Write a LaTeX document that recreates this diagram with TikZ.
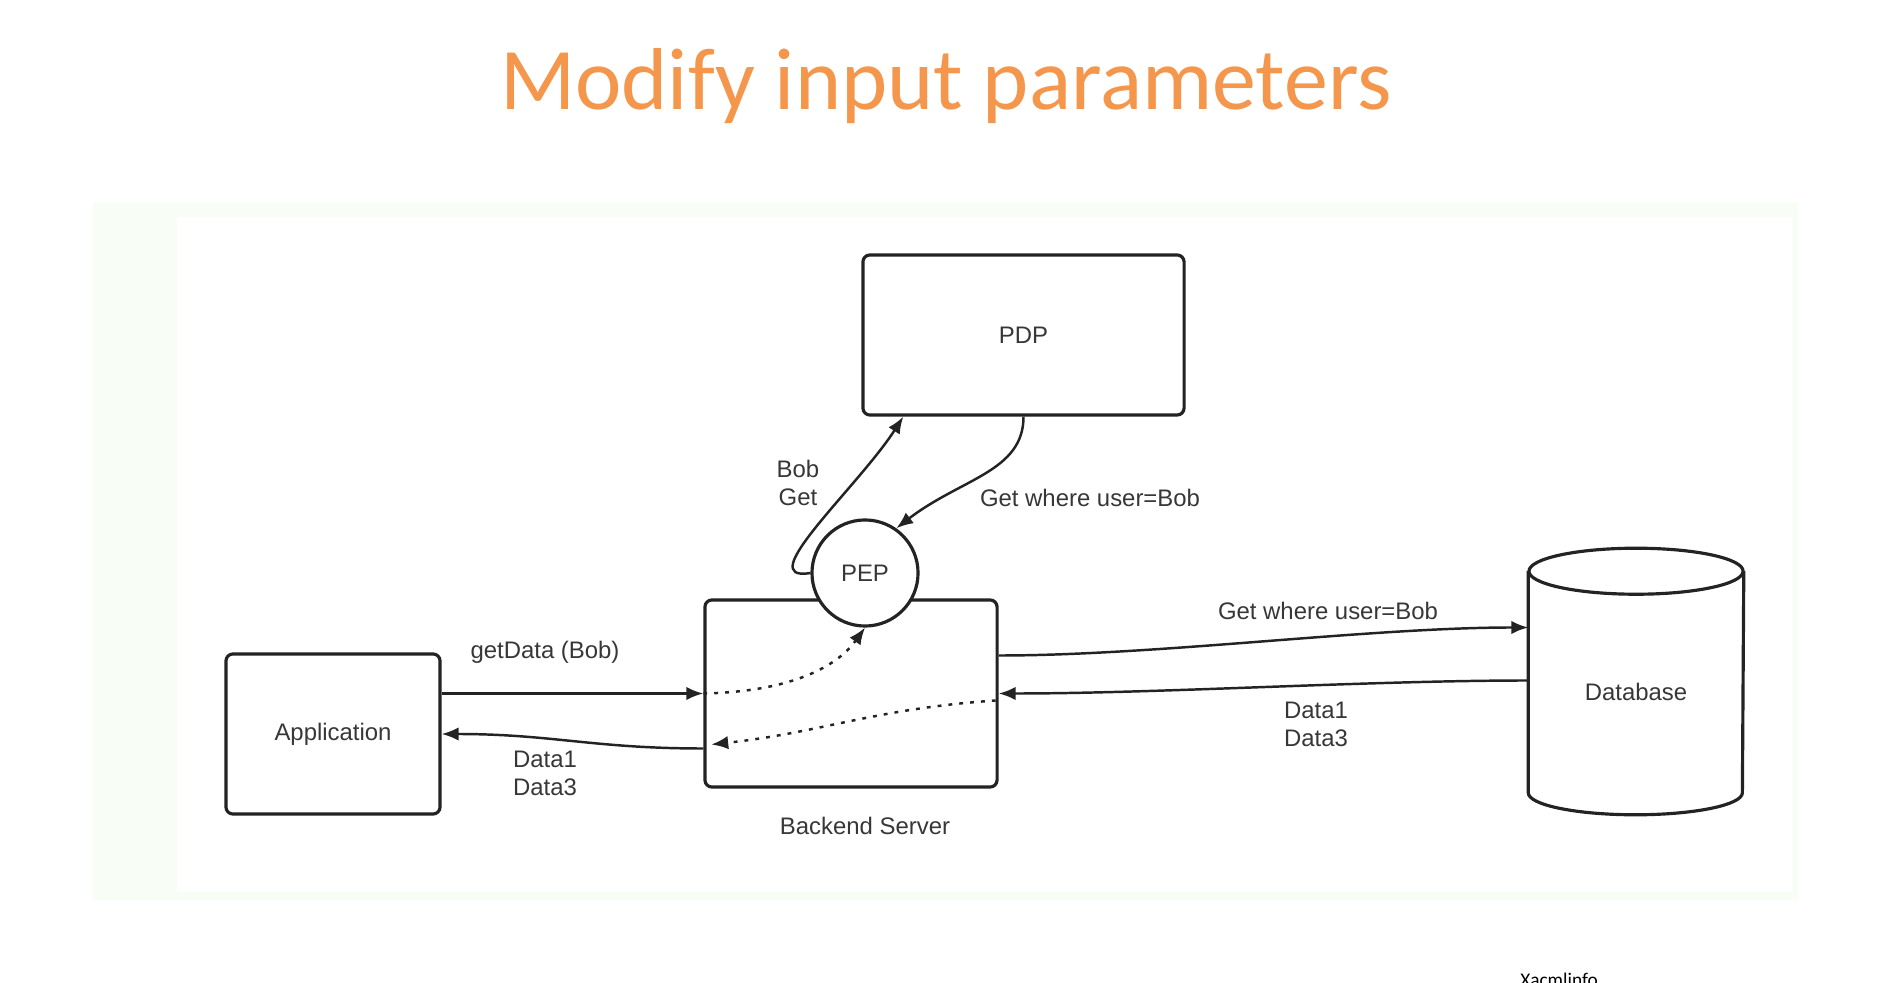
\documentclass[tikz,border=0pt]{standalone}
\usepackage{fontspec}
\newfontfamily\diagfont{Liberation Sans}
\newfontfamily\slidefont{Carlito}
\usetikzlibrary{positioning,calc,arrows.meta}
\definecolor{slidetitle}{RGB}{244,151,76}
\definecolor{panelgreen}{RGB}{248,253,246}
\definecolor{diagline}{RGB}{35,35,35}
\definecolor{diagtext}{RGB}{55,55,55}
\tikzset{
    xacml box/.style={
        rectangle,
        draw=diagline,
        line width=0.9pt,
        rounded corners=2pt,
        fill=white,
        inner sep=0pt,
        font=\diagfont\fontsize{6.8}{7.9}\selectfont,
        text=diagtext,
        align=center
    },
    xacml label/.style={font=\diagfont\fontsize{6.8}{7.9}\selectfont, text=diagtext, align=center, inner sep=0pt},
    db outline/.style={draw=diagline, line width=0.9pt, fill=white},
    flow/.style={draw=diagline, line width=0.7pt, -{Latex[length=4.8pt,width=3.8pt]}},
    dotted flow/.style={flow, dash pattern=on 1.1pt off 2pt}
}

\begin{document}
\begin{tikzpicture}[x=0.01cm,y=-0.01cm]
    \useasboundingbox (0,0) rectangle (1904,983);
    \fill[white] (0,0) rectangle (1904,983);
    \fill[panelgreen] (93,202) rectangle (1798,900);
    \fill[white] (177,217) rectangle (1792,892);

    \node[font=\slidefont\fontsize{25}{30}\selectfont, text=slidetitle] (title) at (946,86) {Modify input parameters};

    \node[xacml box, minimum width=3.21cm, minimum height=1.60cm] (pdp) at (1023.5,335) {PDP};
    \node[xacml box, minimum width=2.92cm, minimum height=1.87cm] (backend) at (851,693.5) {};
    \node[xacml box, circle, minimum size=1.06cm] (pep) at (865,573) {PEP};
    \node[xacml box, minimum width=2.14cm, minimum height=1.60cm] (app) at (333,734) {Application};
    \node[xacml label] (backend-label) at ($(backend.south -| pep)+(0,37)$) {Backend Server};

    %Database drawn as a cylinder round an empty node
    \node[minimum width=2.14cm, minimum height=2.65cm, inner sep=0pt] (db) at (1636,681.5) {};
    \draw[db outline] ($(db.north west)+(0,23)$) -- ($(db.south west)+(0,-22)$) arc[start angle=180, end angle=360, x radius=1.07cm, y radius=0.22cm] -- ($(db.north east)+(0,23)$);
    \draw[db outline] ($(db.north)+(0,23)$) ellipse [x radius=1.07cm, y radius=0.23cm];
    \node[xacml label] (db-label) at ($(db.center)+(0,10)$) {Database};

    \draw[flow] (app.east |- backend.west) -- (backend.west);
    \draw[flow] ($(backend.west)+(0,55)$) .. controls +(-110,0) and +(110,0) .. (app.east);
    \node[xacml label] (get-data) at (545,652) {getData (Bob)};
    \node[xacml label] (app-data) at (545,773) {Data1\\Data3};

    \draw[dotted flow] (backend.west) .. controls +(95,-2) and +(-25,35) .. (pep.south);
    \draw[dotted flow] ($(backend.east)+(-3,7)$) .. controls +(-120,8) and +(110,-12) .. ($(backend.west)+(8,51)$);

    \draw[flow] (pep.west) .. controls +(-60,10) and +(-45,70) .. ($(pdp.south west)+(42,0)$);
    \draw[flow] (pdp.south) .. controls +(0,55) and +(65,-50) .. (pep.55);
    \node[xacml label] (bob-get) at (798,483) {Bob\\Get};
    \node[xacml label] (pdp-query) at (1090,498) {Get where user=Bob};

    \draw[flow] ($(backend.east)+(0,-38)$) .. controls +(160,0) and +(-160,0) .. ($(db.west)+(0,-54)$);
    \draw[flow] ($(db.west)+(0,-1)$) .. controls +(-160,0) and +(160,0) .. (backend.east);
    \node[xacml label] (db-query) at (1328,611) {Get where user=Bob};
    \node[xacml label] (db-data) at (1316,724) {Data1\\Data3};

    \node[font=\slidefont\fontsize{5.5}{6}\selectfont, anchor=base] (source) at (1559,986) {Xacmlinfo};
\end{tikzpicture}
\end{document}
